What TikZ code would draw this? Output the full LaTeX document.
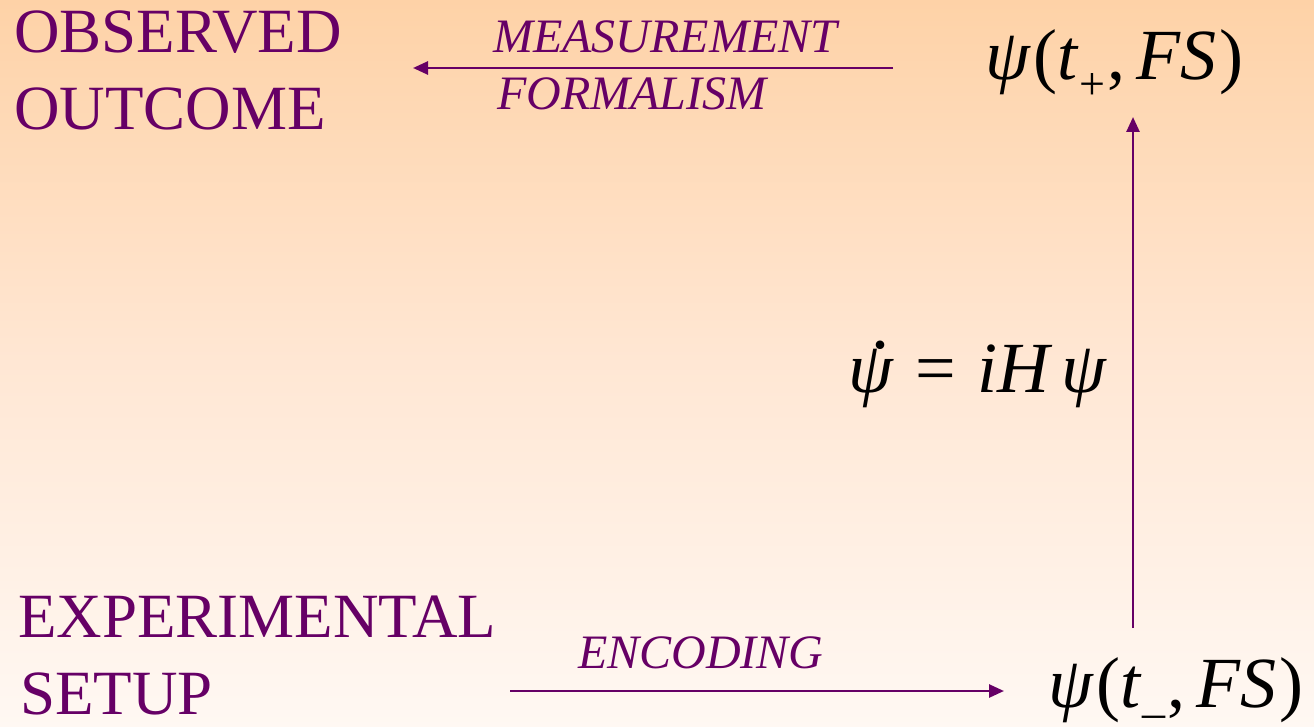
\documentclass[tikz,border=0pt]{standalone}
\usepackage{fontspec}
\setmainfont{Liberation Serif}
\usetikzlibrary{arrows.meta}
\definecolor{plum}{RGB}{102,0,102}
\definecolor{bgtop}{RGB}{254,210,167}
\definecolor{bgmid}{RGB}{255,231,212}
\definecolor{bgbot}{RGB}{255,248,243}
\newcommand{\bigtxt}{\fontsize{63}{77}\selectfont}
\newcommand{\lbltxt}{\fontsize{48}{57}\selectfont\itshape}
\newcommand{\mathtxt}{\fontsize{72}{72}\selectfont}
\newcommand{\subtxt}{\fontsize{46}{46}\selectfont}
\begin{document}
\begin{tikzpicture}[x=1pt,y=-1pt,
  bigword/.style={text=plum,inner sep=0pt,anchor=base west,font=\bigtxt},
  lblword/.style={text=plum,inner sep=0pt,anchor=base west,font=\lbltxt},
  mathword/.style={text=black,inner sep=0pt,anchor=base west,font=\mathtxt},
  arr/.style={draw=plum,line width=2.6pt,-{Triangle[length=15pt,width=13pt]}}]
\useasboundingbox (0,0) rectangle (1314,727);
\shade[top color=bgtop,bottom color=bgbot,middle color=bgmid] (0,0) rectangle (1314,727);
% texts
\node[bigword] (obs1) at (14,53) {OBSERVED};
\node[bigword] (obs2) at (14,130) {OUTCOME};
\node[bigword] (exp1) at (18,637) {EXPERIMENTAL};
\node[bigword] (exp2) at (20,714) {SETUP};
\node[lblword] (meas1) at (493,53) {MEASUREMENT};
\node[lblword] (meas2) at (497,110) {FORMALISM};
\node[lblword] (enc) at (578,668) {ENCODING};
\node[mathword] (psiplus) at (985,80) {\textit{ψ}\hspace{0.03em}(\textit{t}\hspace{0.01em}\raisebox{-0.27em}{\subtxt +}\hspace{0.03em},\hspace{0.15em}\textit{FS}\hspace{0.04em})};
\node[mathword] (psiminus) at (1048,707) {\textit{ψ}\hspace{0.03em}(\textit{t}\hspace{0.01em}\raisebox{-0.08em}{\subtxt \_}\hspace{0.03em},\hspace{0.15em}\textit{FS}\hspace{0.04em})};
\node[mathword] (evol) at (848,392) {\makebox[0pt][l]{\hspace{0.33em}\raisebox{0.6em}{.}}\textit{ψ}\hspace{0.3em}=\hspace{0.3em}\textit{iH}\hspace{0.12em}\textit{ψ}};
% connector end points
\coordinate (mstart) at (893,68);
\coordinate (mend) at (413,68);
\coordinate (vstart) at (1133,628);
\coordinate (vend) at (1133,117);
\coordinate (estart) at (510,691);
\coordinate (eend) at (1004,691);
\draw[arr] (mstart) -- (mend);
\draw[arr] (vstart) -- (vend);
\draw[arr] (estart) -- (eend);
\end{tikzpicture}
\end{document}
